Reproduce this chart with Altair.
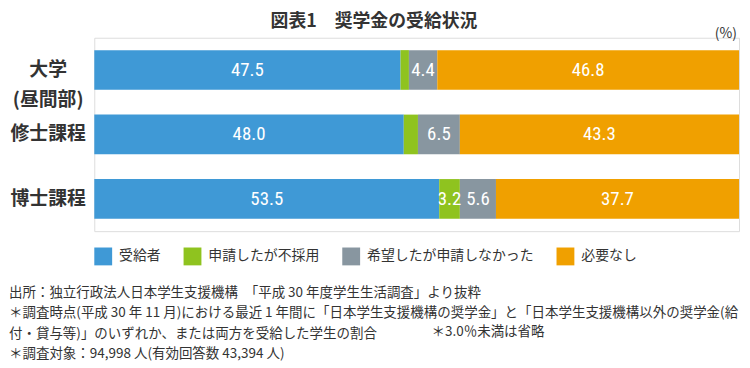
import altair as alt
import pandas as pd

categories = ["大学\n(昼間部)", "修士課程", "博士課程"]
series = ["受給者", "申請したが不採用", "希望したが申請しなかった", "必要なし"]
values = {
    "受給者": [47.5, 48.0, 53.5],
    "申請したが不採用": [1.3, 2.2, 3.2],
    "希望したが申請しなかった": [4.4, 6.5, 5.6],
    "必要なし": [46.8, 43.3, 37.7],
}
colors = ["#3F99D6", "#8FC31F", "#8896A0", "#F0A000"]
title_text = "図表1　奨学金の受給状況"
unit_text = "(%)"
notes = [
    "出所：独立行政法人日本学生支援機構　「平成 30 年度学生生活調査」より抜粋",
    "＊調査時点(平成 30 年 11 月)における最近 1 年間に「日本学生支援機構の奨学金」と「日本学生支援機構以外の奨学金(給",
    "　付・貸与等)」のいずれか、または両方を受給した学生の割合",
    "＊調査対象：94,998 人(有効回答数 43,394 人)",
]
note_extra = "＊3.0％未満は省略"

JP = "Noto Sans CJK JP"
NUM = "Roboto Condensed, DejaVu Sans Condensed, Liberation Sans Narrow, Roboto, sans-serif"
TXT = "#333333"

rows = []
for si, s in enumerate(series):
    for ci, c in enumerate(categories):
        rows.append({"category": c, "series": s, "value": values[s][ci], "order": si})
df = pd.DataFrame(rows)

base = alt.Chart(df).transform_stack(
    stack="value", groupby=["category"], sort=[alt.SortField("order")], as_=["v0", "v1"]
).transform_calculate(mid="(datum.v0 + datum.v1) / 2")

yenc = alt.Y(
    "category:N",
    sort=categories,
    scale=alt.Scale(paddingInner=0.3846, paddingOuter=0.1923),
    axis=alt.Axis(
        title=None, domain=False, ticks=False, labelAlign="center", labelPadding=47,
        labelFontSize=19, labelFontWeight="bold", labelColor=TXT, labelFont=JP,
        labelLineHeight=30, labelExpr="split(datum.label, '\\n')", labelLimit=200,
    ),
)

bars = base.mark_bar().encode(
    x=alt.X("v0:Q", scale=alt.Scale(domain=[0, 100], nice=False), axis=None),
    x2="v1:Q",
    y=yenc,
    color=alt.Color(
        "series:N",
        scale=alt.Scale(domain=series, range=colors),
        legend=alt.Legend(
            title=None, orient="none", direction="horizontal", legendX=0, legendY=211.5,
            symbolType="square", symbolSize=324, symbolStrokeWidth=0, labelFontSize=14,
            labelColor=TXT, labelFont=JP, labelOffset=7, columnPadding=23, labelLimit=400,
            padding=0,
        ),
    ),
    order=alt.Order("order:Q"),
)

labels = base.transform_filter("datum.value >= 3").mark_text(
    color="white", font=NUM, fontSize=19
).encode(
    x=alt.X("mid:Q"),
    y=alt.Y("category:N", sort=categories),
    text=alt.Text("value:Q", format=".1f"),
)

one = pd.DataFrame({"a": [0]})
title_mark = alt.Chart(one).mark_text(
    text=title_text, font=JP, fontSize=18, fontWeight="bold", color=TXT,
    align="center", baseline="middle",
).encode(x=alt.value(282), y=alt.value(-15.5))

unit_mark = alt.Chart(one).mark_text(
    text=unit_text, font=JP, fontSize=14, color=TXT, align="right", baseline="middle",
).encode(x=alt.value(648), y=alt.value(-3.5))

notes_mark = alt.Chart(one).mark_text(
    text=notes, font=JP, fontSize=13.6, color=TXT, align="left", baseline="top",
    lineHeight=20.7,
).encode(x=alt.value(-86), y=alt.value(250))

extra_mark = alt.Chart(one).mark_text(
    text=note_extra, font=JP, fontSize=13.6, color=TXT, align="left", baseline="middle",
).encode(x=alt.value(340), y=alt.value(297))

chart = alt.layer(bars, labels, title_mark, unit_mark, notes_mark, extra_mark).properties(
    width=650, height=195, autosize="none",
    padding={"left": 87, "top": 28.5, "right": 3, "bottom": 136.5},
).configure_view(stroke=None).configure(font=JP)

chart.save("out.html", embed_options={"renderer": "svg", "actions": False})
